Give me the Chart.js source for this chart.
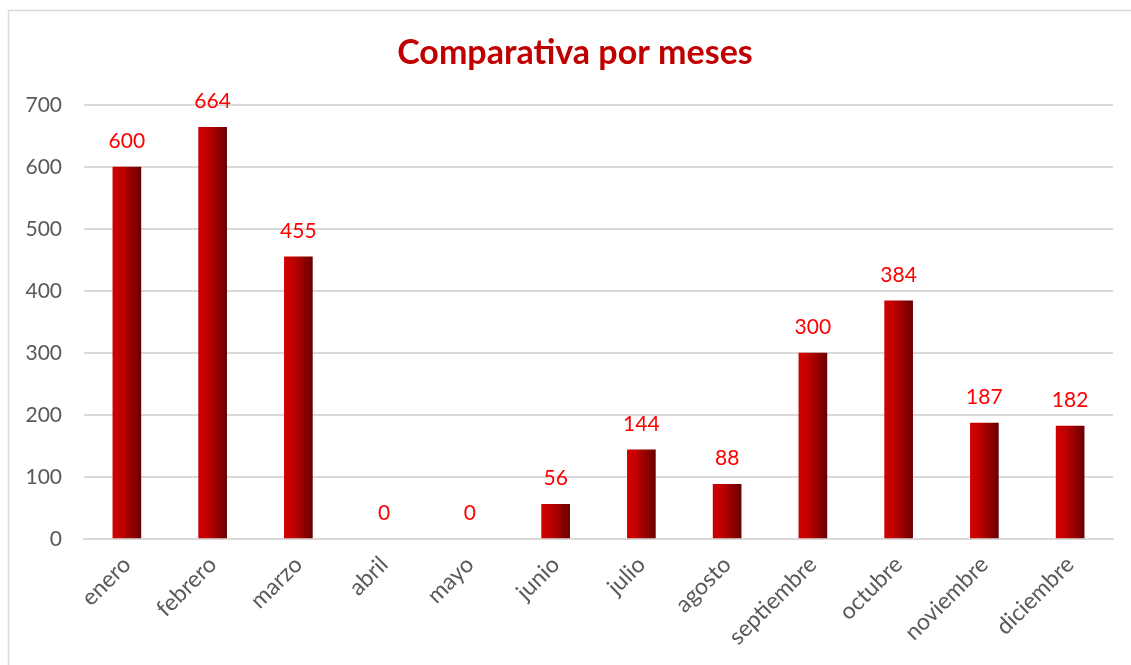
<!DOCTYPE html>
<html>
<head>
<meta charset="utf-8">
<script src="https://cdn.jsdelivr.net/npm/chart.js@4/dist/chart.umd.min.js"></script>
<style>
  html, body { margin: 0; padding: 0; background: #fff; }
  #wrap { position: relative; width: 1131px; height: 665px; }
  canvas { display: block; }
</style>
</head>
<body>
<div id="wrap"><canvas id="c" width="1131" height="665"></canvas></div>
<script>
const titleText = 'Comparativa por meses';
const categories = ['enero','febrero','marzo','abril','mayo','junio','julio','agosto','septiembre','octubre','noviembre','diciembre'];
const values = [600, 664, 455, 0, 0, 56, 144, 88, 300, 384, 187, 182];
const yTicks = [0, 100, 200, 300, 400, 500, 600, 700];

const FONT = "Lato, 'Open Sans', sans-serif";

function barFill(context) {
  const chart = context.chart;
  const v = values[context.dataIndex];
  if (!v) return 'rgba(0,0,0,0)';
  const xs = chart.scales && chart.scales.x;
  if (!xs || !chart.chartArea) return '#c00000';
  const cx = xs.getPixelForValue(context.dataIndex);
  const g = chart.ctx.createLinearGradient(cx - 14, 0, cx + 14, 0);
  g.addColorStop(0, '#d00000');
  g.addColorStop(0.3, '#c20000');
  g.addColorStop(1, '#6a0000');
  return g;
}

const framePlugin = {
  id: 'frame',
  beforeDraw(chart) {
    const ctx = chart.ctx;
    ctx.save();
    ctx.fillStyle = '#fff';
    ctx.fillRect(0, 0, chart.width, chart.height);
    ctx.strokeStyle = '#d9d9d9';
    ctx.lineWidth = 1.5;
    ctx.strokeRect(8.5, 10.5, 1140, 700);
    ctx.fillStyle = '#c00000';
    ctx.font = "bold 34px " + FONT;
    ctx.textAlign = 'center';
    ctx.textBaseline = 'alphabetic';
    ctx.fillText(titleText, 575, 64);
    ctx.restore();
  },
  afterDatasetsDraw(chart) {
    const ctx = chart.ctx;
    const meta = chart.getDatasetMeta(0);
    ctx.save();
    ctx.fillStyle = '#ff0000';
    ctx.font = "21px " + FONT;
    ctx.textAlign = 'center';
    ctx.textBaseline = 'alphabetic';
    meta.data.forEach((el, i) => {
      ctx.fillText(String(values[i]), el.x, el.y - 19);
    });
    ctx.restore();
  }
};

new Chart(document.getElementById('c'), {
  type: 'bar',
  data: {
    labels: categories,
    datasets: [{
      data: values,
      backgroundColor: barFill,
      borderWidth: 0,
      barThickness: 28,
      categoryPercentage: 1,
      barPercentage: 1
    }]
  },
  options: {
    responsive: false,
    animation: false,
    devicePixelRatio: 1,
    layout: { padding: { left: 18, right: 18, top: 105, bottom: 6 } },
    plugins: { legend: { display: false }, title: { display: false }, tooltip: { enabled: false } },
    scales: {
      x: {
        afterFit(axis) { axis.height = 120; },
        grid: { display: false, drawTicks: false },
        border: { display: true, color: '#d9d9d9', width: 2 },
        ticks: {
          color: '#595959',
          font: { family: FONT, size: 23 },
          maxRotation: 45, minRotation: 45,
          padding: 12,
          autoSkip: false
        }
      },
      y: {
        min: 0, max: 700,
        afterFit(axis) { axis.width = 66; },
        afterBuildTicks(axis) { axis.ticks = yTicks.map(v => ({ value: v })); },
        grid: { color: '#d9d9d9', lineWidth: 2, drawTicks: false },
        border: { display: false },
        ticks: {
          color: '#595959',
          font: { family: FONT, size: 21 },
          padding: 22
        }
      }
    }
  },
  plugins: [framePlugin]
});
</script>
</body>
</html>
